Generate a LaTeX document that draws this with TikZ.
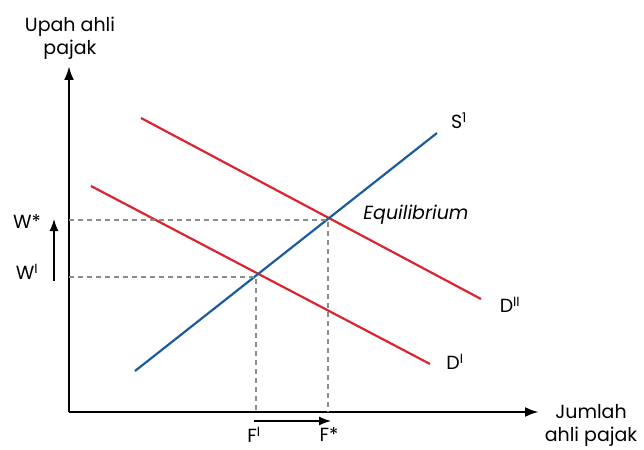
\documentclass[tikz,border=0pt]{standalone}
\usepackage{fontspec}
\setmainfont{Poppins}
\usetikzlibrary{arrows.meta}
\definecolor{kurvaD}{RGB}{218,37,48}
\definecolor{kurvaS}{RGB}{28,92,158}
\begin{document}
\begin{tikzpicture}[x=1pt,y=-1pt,
    sumbu/.style={line width=2.6pt,-{Latex[length=14pt,width=10pt]}},
    kurvad/.style={line width=2.2pt,kurvaD},
    kurvas/.style={line width=2.2pt,kurvaS},
    bantu/.style={line width=1.3pt,gray!90,dash pattern=on 5pt off 4pt},
    geser/.style={line width=1.3pt,-{Latex[length=12pt,width=9pt]}},
    lbl/.style={font=\fontsize{19}{23}\selectfont}]
            \useasboundingbox (0,0) rectangle (644,449);
            % Titik-titik sumbu
            \coordinate (O) at (69,412);
            \coordinate (ytop) at (69,66);
            \coordinate (xend) at (539,412);
            \draw[sumbu] (O) -- (ytop);
            \draw[sumbu] (O) -- (xend);

            % Label sumbu
            \node[lbl,align=center] (ylab) at (70,38) {Upah ahli\\pajak};
            \node[lbl,align=center] (xlab) at (591,425) {Jumlah\\ahli pajak};

            % Kurva permintaan dan penawaran
            \coordinate (s1) at (135,371);
            \coordinate (s2) at (437,133);
            \coordinate (da1) at (141,118);
            \coordinate (da2) at (481,299);
            \coordinate (db1) at (91,186);
            \coordinate (db2) at (430,364);
            \draw[kurvad] (da1) -- (da2);
            \draw[kurvad] (db1) -- (db2);
            \draw[kurvas] (s1) -- (s2);

            % Titik keseimbangan
            \coordinate (E2) at (328,220);
            \coordinate (E1) at (256,277);
            \coordinate (wbintang) at (69,220);
            \coordinate (wsatu) at (69,277);
            \coordinate (fbintang) at (328,412);
            \coordinate (fsatu) at (256,412);
            \draw[bantu] (wbintang) -- (E2) -- (fbintang);
            \draw[bantu] (wsatu) -- (E1) -- (fsatu);

            % Label kurva
            \node[lbl] (labS) at (459,121) {S\textsuperscript{1}};
            \node[lbl] (labD2) at (510,305) {D\textsuperscript{II}};
            \node[lbl] (labD1) at (455,362) {D\textsuperscript{I}};
            \node[lbl,font=\fontsize{19}{23}\selectfont\itshape] (labE) at (416,215) {Equilibrium};

            % Label sumbu dan panah pergeseran
            \node[lbl] (Wb) at (27,222) {W*};
            \node[lbl] (Ws) at (27,272) {W\textsuperscript{I}};
            \node[lbl,inner sep=1pt] (Fs) at (254,435) {F\textsuperscript{I}};
            \node[lbl,inner sep=1pt] (Fb) at (329,435) {F*};
            \coordinate (pw1) at (54,281);
            \coordinate (pw2) at (54,219);
            \coordinate (pf1) at (254,421);
            \coordinate (pf2) at (331,421);
            \draw[geser] (pw1) -- (pw2);
            \draw[geser] (pf1) -- (pf2);
\end{tikzpicture}
\end{document}
